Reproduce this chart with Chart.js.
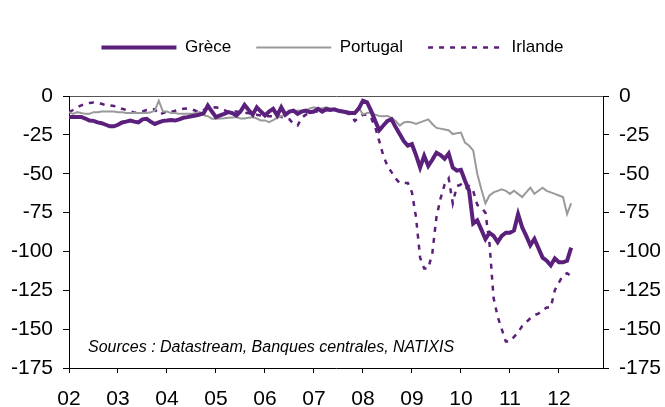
<!DOCTYPE html>
<html>
<head>
<meta charset="utf-8">
<script src="https://cdn.jsdelivr.net/npm/chart.js@4/dist/chart.umd.min.js"></script>
<style>
  html, body { margin: 0; padding: 0; background: #fff; }
  #wrap { width: 665px; height: 407px; position: relative; }
</style>
</head>
<body>
<div id="wrap"><canvas id="myChart" width="665" height="407"></canvas></div>
<script>
// données mensuelles, de janvier 2002 à avril 2012
const debut = 2002;
const grece = [
  -13.5, -13.5, -13.5, -13.5, -14.5, -15.8, -16, -17, -17.5, -18.5, -19.5, -19.5,
  -18.5, -17, -16.5, -15.8, -16.5, -17, -15, -14.7, -16.5, -18, -17, -16,
  -15.8, -15.5, -15.8, -15, -14, -13.6, -13, -12.5, -12, -11, -6.2, -10,
  -13.6, -12.5, -11.5, -10.4, -11, -12.5, -10, -5.8, -9, -12, -7.3, -10,
  -12.5, -10, -8.3, -12.5, -7.3, -12, -10, -9.4, -11.5, -10, -9.4, -10.4,
  -10, -8.3, -10, -8.5, -9, -8.5, -9.5, -10, -10.5, -11, -11, -8,
  -3, -4, -9.6, -16, -22, -19, -16, -15, -20, -24.5, -29, -32,
  -31, -38, -46, -38.5, -45, -41, -36.5, -38, -40.4, -37, -46, -48,
  -47.5, -54.5, -61, -82, -80, -86, -92, -88, -90, -94, -90, -88,
  -88, -86.5, -76, -84.5, -90, -96, -92, -98, -104, -106, -109, -104.5,
  -107, -107, -106, -97.5
];
const portugal = [
  -10.4, -11.5, -10.4, -11, -11.5, -11.5, -10.4, -10.5, -10, -10, -10, -10,
  -10.5, -10.4, -11, -11, -11, -11, -11, -11, -10.5, -9.5, -3, -10,
  -10, -11, -11, -11.5, -11.5, -11.5, -11.5, -11, -10.4, -12.5, -13, -14.6,
  -14.6, -14.5, -14.3, -14, -13.8, -13.6, -14.5, -14.5, -14, -13.6, -14.5, -15.7,
  -15.7, -16.8, -15.5, -14, -13, -12, -10.4, -10, -9.4, -9.5, -9.4, -8,
  -7.3, -8, -7.8, -7.3, -8, -8.5, -9, -9.6, -10, -11, -11, -7.5,
  -11.8, -11, -10.7, -12, -12.8, -13, -12.8, -14, -16, -19, -17, -16.5,
  -17, -18, -17, -16, -15, -18, -20.5, -21, -21.5, -22, -24.5, -24,
  -23.5, -30, -32, -35, -50, -60, -69, -64, -62, -61, -60, -61,
  -63, -61, -63, -65, -62, -59, -63, -61, -59, -61, -62, -63,
  -64, -65, -76, -69
];
const irlande = [
  -10.4, -9, -7.3, -6, -5.2, -4.5, -4.2, -4.5, -5, -6, -6, -6.5,
  -7, -8.2, -9, -9.8, -10.7, -10.5, -10, -9, -8.5, -8.5, -12, -11,
  -10, -10.4, -9.5, -9, -8.2, -8, -8.5, -9.5, -10.4, -9, -8, -7.5,
  -7.3, -8, -9, -10.4, -10, -10, -10.5, -11, -11, -12, -12, -12.5,
  -13, -13, -13, -13, -13.5, -14, -15, -18, -19, -14, -12, -11,
  -10, -10, -10, -9, -9, -9, -9.5, -10, -11, -12, -16, -14,
  -12, -12, -14, -20, -29, -38.5, -45, -49, -53, -56, -56, -56,
  -62, -78, -104, -111, -111, -101, -78, -66, -57, -53, -69, -58,
  -57, -60, -58, -61, -70, -72, -75, -95, -130, -142, -150, -158,
  -158, -155, -152, -148, -145.5, -143, -141, -140, -138, -136, -136, -125,
  -120, -115.5, -114, -116
];
const annees = [2002, 2003, 2004, 2005, 2006, 2007, 2008, 2009, 2010, 2011, 2012];
const etiquettesAnnees = ['02', '03', '04', '05', '06', '07', '08', '09', '10', '11', '12'];
const graduationsY = [0, -25, -50, -75, -100, -125, -150, -175];

const police = "'Liberation Sans', Arial, sans-serif";
const violet = '#5b1f7c';

function enPoints(serie) {
  return serie.map((v, i) => ({ x: debut + i / 12, y: v }));
}

// marge sous la légende
const margeLegende = {
  id: 'margeLegende',
  beforeInit(chart) {
    const fit = chart.legend.fit;
    chart.legend.fit = function () {
      fit.call(this);
      this.height += 30;
    };
  }
};

// texte des sources dans la zone du graphique
const sources = {
  id: 'sources',
  afterDraw(chart) {
    const ctx = chart.ctx;
    ctx.save();
    ctx.font = 'italic 16px ' + police;
    ctx.fillStyle = '#000';
    ctx.textBaseline = 'middle';
    ctx.fillText('Sources : Datastream, Banques centrales, NATIXIS', 88, 348);
    ctx.restore();
  }
};

function grafico() {
  const ctx = document.getElementById('myChart');
  new Chart(ctx, {
    type: 'line',
    data: {
      datasets: [
        {
          label: 'Grèce',
          data: enPoints(grece),
          borderColor: violet,
          backgroundColor: violet,
          borderWidth: 4,
          pointRadius: 0,
          pointStyle: 'line',
          order: 1
        },
        {
          label: 'Portugal',
          data: enPoints(portugal),
          borderColor: '#9a9a9a',
          backgroundColor: '#9a9a9a',
          borderWidth: 2,
          pointRadius: 0,
          pointStyle: 'line',
          order: 2
        },
        {
          label: 'Irlande',
          data: enPoints(irlande),
          borderColor: violet,
          backgroundColor: violet,
          borderWidth: 2.5,
          borderDash: [5, 6],
          pointRadius: 0,
          pointStyle: 'line',
          order: 3
        }
      ]
    },
    options: {
      responsive: false,
      animation: false,
      layout: { padding: { top: 14, left: 0, right: 0, bottom: 0 } },
      plugins: {
        tooltip: { enabled: false },
        legend: {
          position: 'top',
          labels: {
            usePointStyle: true,
            pointStyleWidth: 75,
            padding: 25,
            color: '#000',
            font: { family: police, size: 17 },
            generateLabels(chart) {
              const items = Chart.defaults.plugins.legend.labels.generateLabels(chart);
              items.forEach((it) => {
                const ds = chart.data.datasets[it.datasetIndex];
                it.lineDash = ds.borderDash || [];
                it.lineWidth = ds.borderWidth;
                it.strokeStyle = ds.borderColor;
              });
              return items;
            }
          }
        }
      },
      scales: {
        x: {
          type: 'linear',
          min: 2002,
          max: 2012.9,
          afterBuildTicks(scale) { scale.ticks = annees.map(v => ({ value: v })); },
          afterFit(scale) { scale.height = 39; },
          border: { color: '#000', width: 1 },
          grid: { display: true, drawOnChartArea: false, tickLength: 5, tickColor: '#000' },
          ticks: {
            color: '#000',
            font: { family: police, size: 21 },
            padding: 14,
            maxRotation: 0,
            autoSkip: false,
            callback: (v) => etiquettesAnnees[annees.indexOf(v)]
          }
        },
        y: {
          position: 'left',
          min: -175,
          max: 0,
          afterBuildTicks(scale) { scale.ticks = graduationsY.map(v => ({ value: v })); },
          afterFit(scale) { scale.width = 69; },
          border: { color: '#000', width: 1 },
          grid: {
            drawOnChartArea: true,
            tickLength: 6,
            tickColor: '#000',
            color: (c) => (c.tick && c.tick.value === 0 ? '#555' : 'rgba(0,0,0,0)')
          },
          ticks: { color: '#000', font: { family: police, size: 21 }, padding: 10 }
        },
        y2: {
          position: 'right',
          min: -175,
          max: 0,
          afterBuildTicks(scale) { scale.ticks = graduationsY.map(v => ({ value: v })); },
          afterFit(scale) { scale.width = 62; },
          border: { color: '#000', width: 1 },
          grid: { drawOnChartArea: false, tickLength: 6, tickColor: '#000' },
          ticks: { color: '#000', font: { family: police, size: 21 }, padding: 10 }
        }
      }
    },
    plugins: [margeLegende, sources]
  });
}

grafico();
</script>
</body>
</html>
